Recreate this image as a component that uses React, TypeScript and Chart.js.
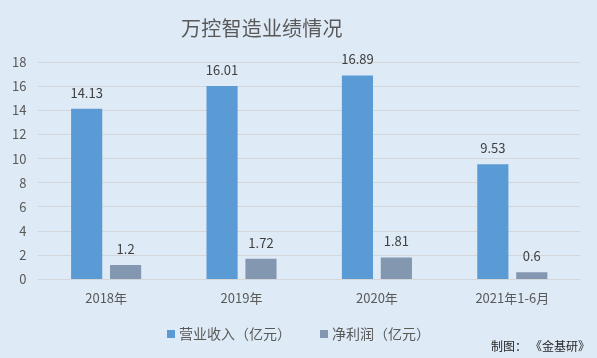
import React, { useEffect, useRef } from "react";
import { Chart, registerables } from "chart.js";

Chart.register(...registerables);

const categories = ["2018年", "2019年", "2020年", "2021年1-6月"];
const revenue = [14.13, 16.01, 16.89, 9.53];
const netProfit = [1.2, 1.72, 1.81, 0.6];
const yTicks = [0, 2, 4, 6, 8, 10, 12, 14, 16, 18];
const titleText = "万控智造业绩情况";
const creditText = "制图：《金基研》";
const seriesNames = ["营业收入（亿元）", "净利润（亿元）"];
const seriesColors = ["#5b9bd5", "#8497b0"];

const FONT = '"Noto Sans CJK SC", "DejaVu Sans", sans-serif';
const BG = "#deeaf6";

const valueLabels = {
  id: "valueLabels",
  afterDatasetsDraw(chart: any) {
    const ctx = chart.ctx;
    ctx.save();
    ctx.font = `13px ${FONT}`;
    ctx.fillStyle = "#404040";
    ctx.textAlign = "center";
    ctx.textBaseline = "middle";
    chart.data.datasets.forEach((ds: any, i: number) => {
      const meta = chart.getDatasetMeta(i);
      meta.data.forEach((bar: any, j: number) => {
        ctx.fillText(String(ds.data[j]), bar.x, bar.y - 16);
      });
    });
    ctx.restore();
  },
};

function drawChars(ctx: any, text: string, x: number, y: number, adv: number) {
  ctx.textAlign = "center";
  for (let i = 0; i < text.length; i++) {
    ctx.fillText(text[i], x + adv * i + adv / 2, y);
  }
}

const decorations = {
  id: "decorations",
  afterDraw(chart: any) {
    const ctx = chart.ctx;
    ctx.save();
    // title
    ctx.font = `20px ${FONT}`;
    ctx.fillStyle = "#595959";
    ctx.textBaseline = "middle";
    drawChars(ctx, titleText, 181, 28, 20.2);
    // legend
    ctx.font = `14px ${FONT}`;
    const legendX = [167, 320];
    chart.data.datasets.forEach((ds: any, i: number) => {
      ctx.fillStyle = ds.backgroundColor;
      ctx.fillRect(legendX[i], 330, 8, 8);
      ctx.fillStyle = "#595959";
      drawChars(ctx, ds.label, legendX[i] + 12, 334, 14);
    });
    // credit
    ctx.font = `12px ${FONT}`;
    ctx.fillStyle = "#262626";
    drawChars(ctx, creditText.slice(0, 3), 491, 346, 12);
    drawChars(ctx, creditText.slice(3), 530, 346, 12);
    ctx.restore();
  },
};

export default function App() {
  const ref = useRef<HTMLCanvasElement>(null);
  useEffect(() => {
    document.body.style.margin = "0";
    const chart = new Chart(ref.current!, {
      type: "bar",
      data: {
        labels: categories,
        datasets: [
          {
            label: seriesNames[0],
            data: revenue,
            backgroundColor: seriesColors[0],
            categoryPercentage: 0.575,
            barPercentage: 0.8,
          },
          {
            label: seriesNames[1],
            data: netProfit,
            backgroundColor: seriesColors[1],
            categoryPercentage: 0.575,
            barPercentage: 0.8,
          },
        ],
      },
      options: {
        animation: false,
        responsive: false,
        layout: { padding: { left: 0, right: 17, top: 62, bottom: 49 } },
        scales: {
          x: {
            grid: { display: false },
            border: { display: false },
            ticks: { color: "#595959", font: { family: FONT, size: 13 }, padding: 3 },
          },
          y: {
            min: 0,
            max: 18,
            afterBuildTicks: (axis: any) => {
              axis.ticks = yTicks.map((v) => ({ value: v }));
            },
            grid: { color: "#d3d6da", drawTicks: false, lineWidth: 1 },
            border: { display: false },
            ticks: { color: "#595959", font: { family: FONT, size: 13 }, padding: 12 },
          },
        },
        plugins: {
          title: { display: false },
          legend: { display: false },
          tooltip: { enabled: false },
        },
      },
      plugins: [valueLabels, decorations],
    });
    return () => chart.destroy();
  }, []);
  return (
    <div style={{ width: 597, height: 358, background: BG }}>
      <canvas ref={ref} width={597} height={358} />
    </div>
  );
}
